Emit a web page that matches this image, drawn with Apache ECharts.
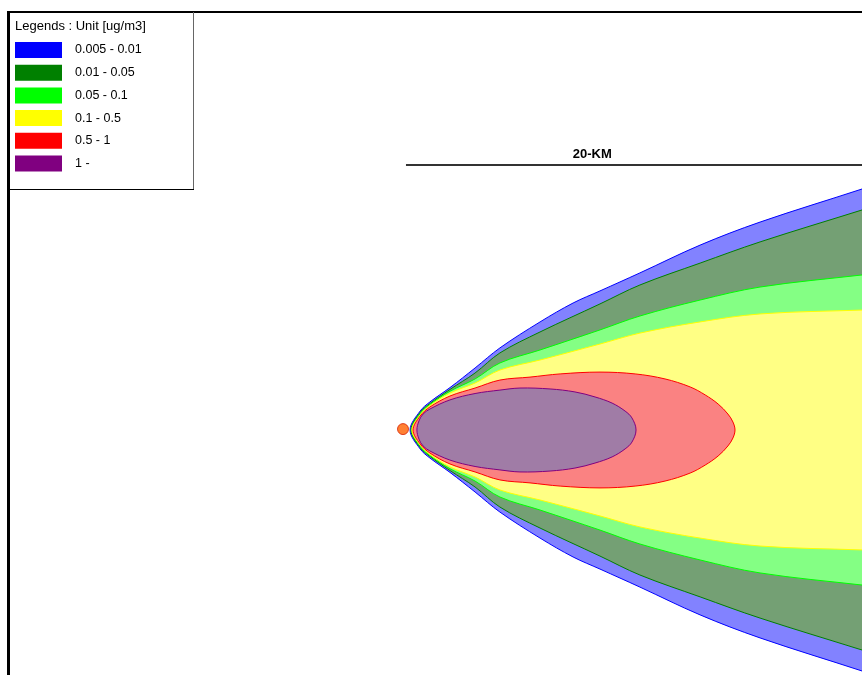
<!DOCTYPE html>
<html><head><meta charset="utf-8">
<script src="https://cdn.jsdelivr.net/npm/echarts@6/dist/echarts.min.js"></script>
<style>html,body{margin:0;padding:0;background:#fff}#c{width:862px;height:675px}</style>
</head><body><div id="c"></div>
<script>
// Legend / level definitions
const legendTitle = 'Legends : Unit [ug/m3]';
const levelNames = ['0.005 - 0.01', '0.01 - 0.05', '0.05 - 0.1', '0.1 - 0.5', '0.5 - 1', '1 -'];
const levelColors = ['#0000ff', '#008000', '#00ff00', '#ffff00', '#ff0000', '#800080'];
const levelFills = ['#8282ff', '#74a074', '#84ff84', '#ffff84', '#fa8282', '#a07ca6'];
const scaleLabel = '20-KM';
const scaleBar = [[0.13, 11.62], [20.4, 11.62]];   // km
const scaleLabelPos = [8.3, 12.1];
const source = [[0, 0.04]];

// Contours: downwind distance (km) and plume half-width (km)
const c0005X = [0.31, 0.75, 1.18, 2.06, 3.16, 4.25, 6.01, 7.46, 8.64, 10.39, 13.03, 15.66, 20.13, 20.92];
const c0005W = [0.00, 0.83, 1.23, 1.86, 2.72, 3.60, 4.74, 5.57, 6.10, 6.89, 8.11, 9.12, 10.57, 10.85];
const c001X  = [0.35, 0.75, 1.18, 2.06, 3.16, 4.25, 6.01, 8.64, 10.39, 13.03, 15.66, 20.13, 20.92];
const c001W  = [0.00, 0.77, 1.16, 1.78, 2.50, 3.38, 4.30, 5.53, 6.36, 7.32, 8.25, 9.65, 9.90];
const c005X  = [0.39, 0.75, 1.18, 2.06, 3.16, 4.25, 6.01, 8.64, 10.39, 13.03, 15.66, 20.13, 20.92];
const c005W  = [0.00, 0.72, 1.12, 1.70, 2.24, 2.94, 3.51, 4.39, 5.00, 5.70, 6.27, 6.80, 6.88];
const c01X   = [0.39, 0.75, 1.18, 2.06, 3.16, 4.25, 6.01, 8.64, 10.39, 13.03, 15.66, 20.13, 20.92];
const c01W   = [0.00, 0.66, 1.07, 1.62, 2.06, 2.63, 3.07, 3.77, 4.25, 4.74, 5.09, 5.26, 5.28];
const c05X   = [0.44, 0.75, 1.18, 2.06, 3.16, 4.25, 5.57, 6.89, 8.64, 10.18, 11.49, 12.59, 13.25, 13.82, 14.25, 14.47, 14.56];
const c05W   = [0.00, 0.61, 1.01, 1.49, 1.84, 2.19, 2.32, 2.46, 2.54, 2.46, 2.24, 1.89, 1.54, 1.14, 0.70, 0.35, 0.00];
const c1X    = [0.61, 0.70, 0.88, 1.18, 2.06, 3.16, 4.25, 5.13, 6.45, 7.54, 8.42, 9.17, 9.74, 10.04, 10.22];
const c1W    = [0.00, 0.40, 0.70, 0.92, 1.32, 1.60, 1.75, 1.84, 1.80, 1.67, 1.45, 1.18, 0.83, 0.53, 0.00];

const contourX = [c0005X, c001X, c005X, c01X, c05X, c1X];
const contourW = [c0005W, c001W, c005W, c01W, c05W, c1W];

function contourSeries(i) {
  const xs = contourX[i], ws = contourW[i], color = levelColors[i], fill = levelFills[i];
  return {
    type: 'custom', name: levelNames[i], coordinateSystem: 'cartesian2d',
    z: 2 + i, silent: true, itemStyle: { color: color },
    data: [[xs[0], 0]],
    renderItem: function (params, api) {
      const n = xs.length, pts = [];
      for (let k = 0; k < n; k++) pts.push(api.coord([xs[k], ws[k]]));
      const kStart = ws[n - 1] === 0 ? n - 2 : n - 1;
      const kEnd = ws[0] === 0 ? 1 : 0;
      for (let k = kStart; k >= kEnd; k--) pts.push(api.coord([xs[k], -ws[k]]));
      return { type: 'polygon', shape: { points: pts, smooth: 0.35 },
        style: { fill: fill, stroke: color, lineWidth: 1 } };
    }
  };
}

const chart = echarts.init(document.getElementById('c'));
const series = levelNames.map((n, i) => contourSeries(i));
series.push({
  type: 'custom', coordinateSystem: 'cartesian2d', silent: true, z: 20,
  data: [[scaleBar[0][0], scaleBar[0][1]]],
  renderItem: function (params, api) {
    const a = api.coord(scaleBar[0]), b = api.coord(scaleBar[1]), t = api.coord(scaleLabelPos);
    return { type: 'group', children: [
      { type: 'line', shape: { x1: a[0], y1: a[1], x2: b[0], y2: b[1] }, style: { stroke: '#333', lineWidth: 2 } },
      { type: 'text', x: t[0], y: t[1], style: { text: scaleLabel, fill: '#000',
        font: 'bold 13px "Liberation Sans", Arial, sans-serif', textAlign: 'center', textVerticalAlign: 'middle' } }
    ] };
  }
});
series.push({
  type: 'scatter', data: source, symbol: 'circle', symbolSize: 11, z: 30, silent: true,
  itemStyle: { color: '#ff6000', borderColor: '#d82000', borderWidth: 1 }
});

chart.setOption({
  animation: false,
  backgroundColor: '#ffffff',
  grid: { left: 0, right: 0, top: 0, bottom: 0 },
  xAxis: { type: 'value', min: -17.675, max: 20.13, show: false },
  yAxis: { type: 'value', min: -10.746, max: 18.86, show: false },
  title: { text: legendTitle, left: 15, top: 20, padding: 0,
    textStyle: { fontSize: 13, fontWeight: 'normal', color: '#000', fontFamily: '"Liberation Sans", Arial, sans-serif' } },
  legend: {
    orient: 'vertical', left: 15, top: 42, padding: 0, itemWidth: 47, itemHeight: 16, itemGap: 6.7,
    icon: 'rect', selectedMode: false,
    textStyle: { fontSize: 12.5, color: '#000', fontFamily: '"Liberation Sans", Arial, sans-serif', padding: [2, 0, 0, 8] },
    data: levelNames.map((n, i) => ({ name: n, itemStyle: { color: levelColors[i] } }))
  },
  graphic: [
    { type: 'line', shape: { x1: 8, y1: 12, x2: 862, y2: 12 }, style: { stroke: '#000', lineWidth: 2 }, z: 100 },
    { type: 'line', shape: { x1: 8.5, y1: 11, x2: 8.5, y2: 675 }, style: { stroke: '#000', lineWidth: 3 }, z: 100 },
    { type: 'line', shape: { x1: 193.5, y1: 12, x2: 193.5, y2: 190 }, style: { stroke: '#666', lineWidth: 1 }, z: 100 },
    { type: 'line', shape: { x1: 8, y1: 189.5, x2: 194, y2: 189.5 }, style: { stroke: '#000', lineWidth: 1 }, z: 100 }
  ],
  series: series
});
</script></body></html>
